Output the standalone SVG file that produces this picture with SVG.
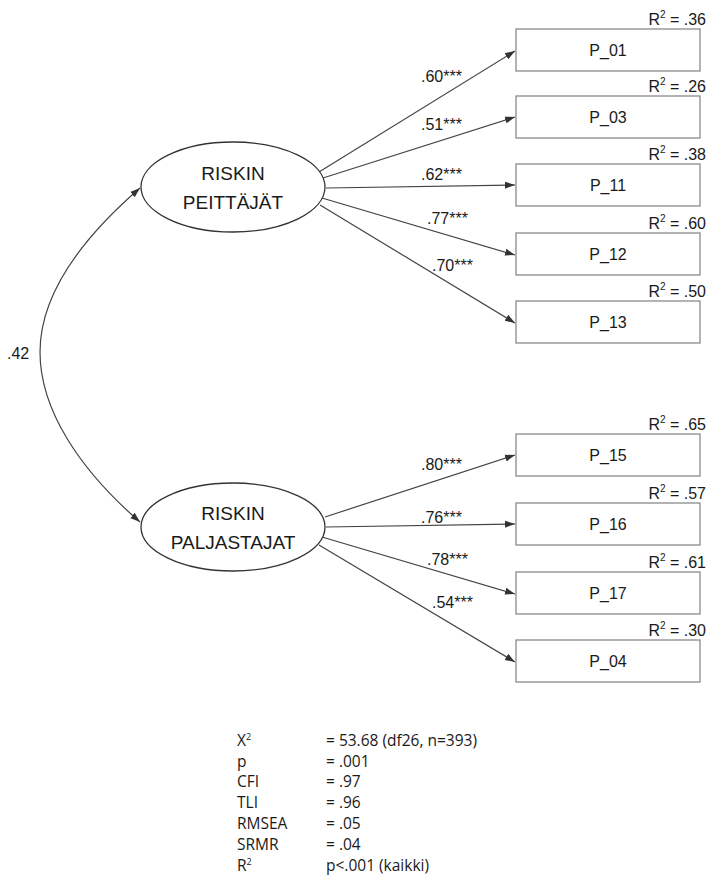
<svg xmlns="http://www.w3.org/2000/svg" width="710" height="889" viewBox="0 0 710 889">
<style>
text{font-family:"Liberation Sans",Arial,sans-serif;fill:#1a1a1a}
.box{fill:#fff;stroke:#8a8a8a;stroke-width:1.3}
.lat{fill:#fff;stroke:#333;stroke-width:1.3}
.bl{font-size:16px;text-anchor:middle}
.r2{font-size:16px;text-anchor:end}
.lv{font-size:19px;text-anchor:middle}
.pl{font-size:16px}
.st{font-size:15.5px;font-family:"Open Sans","Liberation Sans",sans-serif}
.edge{stroke:#444;stroke-width:1.2;fill:none;marker-end:url(#ah)}
</style>
<defs>
<marker id="ah" viewBox="0 0 10 10" refX="10" refY="5" markerWidth="10" markerHeight="10" markerUnits="userSpaceOnUse" orient="auto-start-reverse">
<path d="M0,1.5 L10,5 L0,8.5 z" fill="#333"/>
</marker>
</defs>
<rect width="710" height="889" fill="#fff"/>
<g id="connectors">
<path class="edge" style="marker-start:url(#ah)" d="M140,188 C80,240 40,295 40,352 C40,410 80,470 140,522"/>
<line class="edge" x1="319" y1="172" x2="515" y2="51"/>
<line class="edge" x1="323" y1="178" x2="515" y2="117"/>
<line class="edge" x1="326" y1="188" x2="515" y2="185"/>
<line class="edge" x1="322" y1="198" x2="515" y2="255"/>
<line class="edge" x1="320" y1="205" x2="515" y2="323"/>
<line class="edge" x1="325" y1="517" x2="515" y2="455"/>
<line class="edge" x1="326" y1="527" x2="515" y2="524"/>
<line class="edge" x1="322" y1="537" x2="515" y2="594"/>
<line class="edge" x1="319" y1="545" x2="515" y2="662"/>
<text class="pl" x="7" y="359" font-size="17">.42</text>
<text class="pl" x="421" y="82">.60***</text>
<text class="pl" x="421" y="130">.51***</text>
<text class="pl" x="421" y="180">.62***</text>
<text class="pl" x="427" y="224">.77***</text>
<text class="pl" x="432" y="271">.70***</text>
<text class="pl" x="421" y="470">.80***</text>
<text class="pl" x="421" y="523">.76***</text>
<text class="pl" x="427" y="565">.78***</text>
<text class="pl" x="432" y="608">.54***</text>
</g>
<g id="F1">
<ellipse class="lat" cx="233" cy="187" rx="92" ry="45"/>
<text class="lv" x="233" y="180">RISKIN</text>
<text class="lv" x="233" y="209">PEITTÄJÄT</text>
</g>
<g id="F2">
<ellipse class="lat" cx="233" cy="527" rx="92" ry="44"/>
<text class="lv" x="233" y="520">RISKIN</text>
<text class="lv" x="233" y="549">PALJASTAJAT</text>
</g>
<g id="P_01"><rect class="box" x="516" y="29" width="184" height="42"/><text class="bl" x="608" y="56">P_01</text><text class="r2" x="706" y="25">R<tspan font-size="10" dy="-7">2</tspan><tspan dy="7"> = .36</tspan></text></g>
<g id="P_03"><rect class="box" x="516" y="96" width="184" height="42"/><text class="bl" x="608" y="123">P_03</text><text class="r2" x="706" y="92">R<tspan font-size="10" dy="-7">2</tspan><tspan dy="7"> = .26</tspan></text></g>
<g id="P_11"><rect class="box" x="516" y="164" width="184" height="42"/><text class="bl" x="608" y="191">P_11</text><text class="r2" x="706" y="160">R<tspan font-size="10" dy="-7">2</tspan><tspan dy="7"> = .38</tspan></text></g>
<g id="P_12"><rect class="box" x="516" y="233" width="184" height="42"/><text class="bl" x="608" y="260">P_12</text><text class="r2" x="706" y="229">R<tspan font-size="10" dy="-7">2</tspan><tspan dy="7"> = .60</tspan></text></g>
<g id="P_13"><rect class="box" x="516" y="301" width="184" height="42"/><text class="bl" x="608" y="328">P_13</text><text class="r2" x="706" y="297">R<tspan font-size="10" dy="-7">2</tspan><tspan dy="7"> = .50</tspan></text></g>
<g id="P_15"><rect class="box" x="516" y="434" width="184" height="42"/><text class="bl" x="608" y="461">P_15</text><text class="r2" x="706" y="430">R<tspan font-size="10" dy="-7">2</tspan><tspan dy="7"> = .65</tspan></text></g>
<g id="P_16"><rect class="box" x="516" y="503" width="184" height="42"/><text class="bl" x="608" y="530">P_16</text><text class="r2" x="706" y="499">R<tspan font-size="10" dy="-7">2</tspan><tspan dy="7"> = .57</tspan></text></g>
<g id="P_17"><rect class="box" x="516" y="572" width="184" height="42"/><text class="bl" x="608" y="599">P_17</text><text class="r2" x="706" y="568">R<tspan font-size="10" dy="-7">2</tspan><tspan dy="7"> = .61</tspan></text></g>
<g id="P_04"><rect class="box" x="516" y="640" width="184" height="42"/><text class="bl" x="608" y="667">P_04</text><text class="r2" x="706" y="636">R<tspan font-size="10" dy="-7">2</tspan><tspan dy="7"> = .30</tspan></text></g>
<g id="fit">
<text class="st" x="237" y="746">X<tspan font-size="9" dy="-6">2</tspan></text>
<text class="st" x="326" y="746">= 53.68 (df26, n=393)</text>
<text class="st" x="237" y="767">p</text><text class="st" x="326" y="767">= .001</text>
<text class="st" x="237" y="787">CFI</text><text class="st" x="326" y="787">= .97</text>
<text class="st" x="237" y="808">TLI</text><text class="st" x="326" y="808">= .96</text>
<text class="st" x="237" y="829">RMSEA</text><text class="st" x="326" y="829">= .05</text>
<text class="st" x="237" y="850">SRMR</text><text class="st" x="326" y="850">= .04</text>
<text class="st" x="237" y="871">R<tspan font-size="9" dy="-6">2</tspan></text>
<text class="st" x="326" y="871">p&lt;.001 (kaikki)</text>
</g>
</svg>
